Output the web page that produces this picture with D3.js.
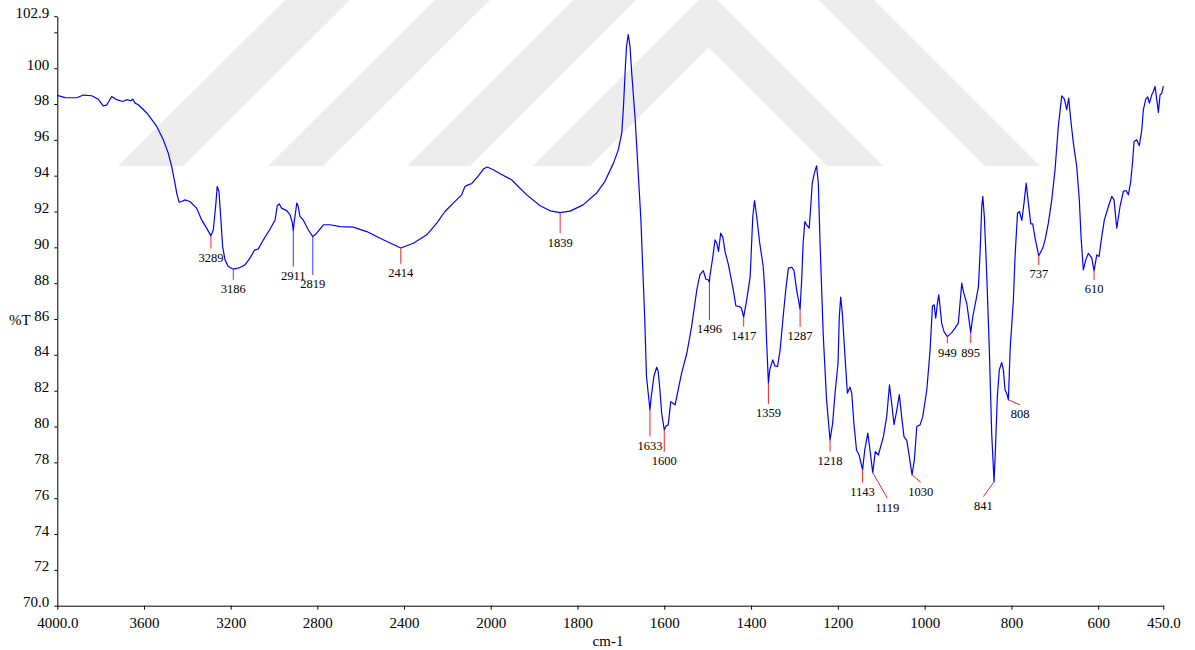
<!DOCTYPE html>
<html><head><meta charset="utf-8">
<script src="https://cdn.jsdelivr.net/npm/d3@7"></script>
<style>
body{margin:0;background:#fff;}
svg{display:block;}
</style>
</head><body>
<svg id="chart" width="1195" height="650"></svg>
<script>
// ---- data ----
const wavenumbers = [4000,3964,3910,3880,3841,3811,3788,3772,3749,3726,3698,3680,3661,3652,3641,3626,3587,3541,3511,3488,3472,3457,3449,3438,3426,3411,3388,3357,3334,3311,3291,3280,3268,3262,3254,3246,3237,3226,3211,3188,3157,3134,3111,3089,3073,3049,3020,2995,2985,2976,2965,2941,2926,2916,2911,2906,2903,2895,2888,2880,2865,2842,2821,2803,2772,2742,2695,2634,2572,2496,2415,2357,2295,2249,2211,2188,2173,2134,2119,2114,2096,2088,2073,2057,2042,2034,2016,1994,1979,1952,1917,1886,1863,1840,1817,1787,1756,1737,1717,1706,1698,1694,1690,1687,1683,1679,1675,1667,1654,1645,1641,1637,1633,1630,1624,1617.5,1614,1610,1606,1600,1596,1591,1585,1580,1575,1568,1560,1548,1537,1525,1518,1510,1504,1498.6,1496,1495,1488,1483,1479,1475,1470,1465,1460,1452,1441,1435,1427,1422,1417,1410,1402,1396,1392,1387,1380,1372,1368,1364,1360,1357,1350,1345,1339,1333,1326,1320,1314,1306,1301,1295,1287,1283,1280,1276,1272,1266,1262.5,1259,1254,1249,1245,1241,1233.5,1226,1218,1212,1206.5,1202.6,1199.6,1196.6,1193.4,1189.7,1183.5,1178,1172,1168,1163,1157,1151,1143,1138,1131,1126,1119.6,1113.6,1106.6,1095,1087.4,1081,1076,1070.5,1064,1058.3,1053,1047.6,1041,1035.3,1029,1023.7,1018,1010.5,1004.4,995,987.4,982,978,974.4,970.5,967.5,964.5,960.7,955.4,947.7,937.6,930,922.3,918.4,914.5,910.7,903,897.7,893.8,889,881.5,876,872,868.4,866,862.4,857,850.9,845.5,840,836.3,832.5,827.9,822.4,818.6,814.7,810.9,807,803,795.5,791.6,786,781.5,776,771,766,760.9,755.4,750.8,745.5,737,727.8,722.5,714.9,707,699.5,691.9,684,678,672.6,668,663.3,657.2,649.5,643.5,639.6,634.2,628.7,622.6,614.8,609.5,603.3,598,591.8,585.8,576.5,568.8,563.5,557.3,549.7,542,535.8,530.5,525,520.4,517.4,511.2,505.2,499.6,495.9,490.4,485.8,482.1,476.6,472.9,469,465,461.3,457.5,453.5,450];
const transmittance = [98.48,98.36,98.35,98.5,98.46,98.27,97.9,97.94,98.42,98.24,98.14,98.24,98.18,98.27,98.05,97.96,97.5,96.75,96.0,95.26,94.51,93.58,93.03,92.52,92.56,92.65,92.56,92.19,91.53,91.07,90.64,90.98,92.47,93.4,93.12,91.72,90.04,89.3,88.93,88.78,88.87,89.02,89.4,89.86,89.9,90.42,90.98,91.53,92.32,92.43,92.19,92.05,91.81,91.4,90.95,91.5,91.72,92.47,92.28,91.72,91.53,90.98,90.6,90.79,91.26,91.26,91.16,91.13,90.88,90.42,89.96,90.23,90.7,91.35,92.0,92.28,92.47,92.93,93.4,93.43,93.53,93.55,93.77,93.99,94.23,94.37,94.48,94.33,94.12,93.77,92.93,92.32,92.04,91.94,92.02,92.37,93.03,93.67,94.7,95.44,96.38,97.86,99.91,101.21,101.87,101.21,99.73,97.12,91.6,86.0,82.79,81.86,80.93,81.67,82.79,83.31,83.07,82.04,80.74,79.81,80.03,80.09,81.39,81.3,81.21,82.04,82.98,84.09,85.58,87.63,88.46,88.7,88.22,88.19,88.05,88.37,89.49,90.42,90.23,89.77,90.79,90.57,89.77,89.02,87.63,86.73,86.7,86.6,86.1,87.07,88.37,91.72,92.61,91.72,90.23,88.93,87.44,84.65,82.42,83.16,83.72,83.38,83.35,84.28,86.14,87.63,88.84,88.89,88.7,87.63,86.55,88.37,90.23,91.44,91.26,91.07,92.28,93.58,94.14,94.55,93.58,90.23,85.02,81.49,79.25,80.18,81.86,82.79,83.53,86.14,87.22,86.33,83.9,81.86,82.2,81.86,80.18,78.69,78.41,77.58,78.69,79.63,78.69,77.43,78.6,78.41,79.44,80.55,82.32,81.3,80.1,80.93,81.78,80.55,79.44,79.21,78.32,77.3,78.13,80.0,80.09,80.55,82.04,84.28,86.73,86.79,86.05,86.88,87.35,86.7,85.77,85.3,85.02,85.24,85.49,85.77,86.88,88.0,87.53,86.88,85.95,85.24,86.14,87.07,87.81,89.86,92.28,92.84,91.72,88.56,84.28,79.63,76.92,79.07,81.67,83.16,83.57,83.16,82.04,81.86,81.49,84.28,87.07,89.49,91.9,92.0,91.5,92.47,93.58,92.47,91.31,91.31,90.51,89.53,89.96,90.42,91.35,92.65,94.33,96.75,98.46,98.27,97.68,98.33,97.12,95.82,94.51,92.65,90.6,88.74,89.3,89.67,89.4,88.69,89.58,89.49,90.6,91.53,92.28,92.84,92.65,91.07,92.28,93.12,93.17,92.93,93.67,94.89,95.91,96.0,95.67,96.56,97.68,98.27,98.39,98.05,98.51,98.7,98.98,98.24,97.53,98.51,98.6,99.0];

const xTickValues = [4000,3600,3200,2800,2400,2000,1800,1600,1400,1200,1000,800,600,450];
const xTickLabels = ["4000.0","3600","3200","2800","2400","2000","1800","1600","1400","1200","1000","800","600","450.0"];
const yTickValues = [70,72,74,76,78,80,82,84,86,88,90,92,94,96,98,100,102,102.9];
const yTickLabels = ["70.0","72","74","76","78","80","82","84","86","88","90","92","94","96","98","100","","102.9"];

// peak annotations: label, wavenumber of peak, %T at peak, wavenumber/%T where marker ends
const peakLabels = ["3289","3186","2911","2819","2414","1839","1633","1600","1496","1417","1359","1287","1218","1143","1119","1030","949","895","841","808","737","610"];
const peakWn     = [3291,3188,2911,2821,2415,1840,1633,1600,1496,1417,1360,1287,1218,1143,1119.6,1029,947.7,893.8,840,807,737,609.5];
const peakT      = [90.64,88.78,90.95,90.6,89.96,91.94,80.93,79.81,88.05,86.1,82.42,86.55,79.25,77.58,77.43,77.3,85.02,85.24,76.92,81.49,89.53,88.69];
const peakEndWn  = [3291,3188,2911,2821,2415,1840,1633,1600,1496,1417,1360,1287,1218,1143,1086,1009,947.7,893.8,864.7,780,737,609.5];
const peakEndT   = [89.93,88.19,88.93,88.46,89.08,90.79,79.44,78.6,85.95,85.58,81.26,85.56,78.6,76.87,76.0,76.89,84.65,84.65,76.09,81.21,89.02,88.18];

// ---- drawing ----
const svg = d3.select("#chart");
const FONT = "'Liberation Serif','Times New Roman',serif";

// background watermark (decorative chevrons)
const watermark = [
  [[118,166],[183,166],[350,0],[285,0]],
  [[268,166],[323,166],[490,0],[435,0]],
  [[407,166],[470,166],[636,0],[573,0]],
  [[533,166],[590,166],[708.5,47.5],[827,166],[883,166],[717,0],[699,0]],
  [[985,166],[1040,166],[874,0],[819,0]]
];
svg.append("g").selectAll("polygon").data(watermark).join("polygon")
  .attr("points", d => d.map(p => p.join(",")).join(" "))
  .attr("fill", "#ededed");

const x = d3.scaleLinear().domain([4000, 2000, 450]).range([57.3, 490.7, 1163.3]);
const y = d3.scaleLinear().domain([70, 102.9]).range([605.7, 16.2]);

const xAxis = d3.axisBottom(x).tickValues(xTickValues)
  .tickFormat((d, i) => xTickLabels[i]).tickSize(4).tickSizeOuter(0).tickPadding(7.3);
const gx = svg.append("g").attr("transform", "translate(0,605.7)").call(xAxis);
gx.selectAll("text").attr("font-family", FONT).attr("font-size", 15).attr("fill", "#000");
gx.selectAll("line,path").attr("stroke", "#000");

const yAxis = d3.axisLeft(y).tickValues(yTickValues)
  .tickFormat((d, i) => yTickLabels[i]).tickSize(3).tickSizeOuter(0).tickPadding(5);
const gy = svg.append("g").attr("transform", "translate(57.3,0)").call(yAxis);
gy.selectAll("text").attr("font-family", FONT).attr("font-size", 15).attr("fill", "#000").attr("dy", 1);
gy.selectAll("line,path").attr("stroke", "#000");

svg.append("text").attr("x", 9).attr("y", 325).attr("font-family", FONT).attr("font-size", 15).text("%T");
svg.append("text").attr("x", 608).attr("y", 646).attr("text-anchor", "middle")
  .attr("font-family", FONT).attr("font-size", 15).text("cm-1");

// spectrum
const pts = wavenumbers.map((w, i) => [w, transmittance[i]]);
svg.append("path").datum(pts)
  .attr("fill", "none").attr("stroke", "#0000ff").attr("stroke-width", 1.2)
  .attr("stroke-linejoin", "round")
  .attr("d", d3.line().x(d => x(d[0])).y(d => y(d[1])));

// peak markers
const blueMarkers = new Set(["2911", "2819", "1496"]);
const peaks = peakLabels.map((l, i) => ({l, w: peakWn[i], t: peakT[i], ew: peakEndWn[i], et: peakEndT[i]}));
const gp = svg.append("g");
gp.selectAll("line").data(peaks).join("line")
  .attr("x1", d => x(d.w)).attr("y1", d => y(d.t))
  .attr("x2", d => x(d.ew)).attr("y2", d => y(d.et))
  .attr("stroke", d => blueMarkers.has(d.l) ? "#3a3aff" : "#ff2020").attr("stroke-width", 1);
gp.selectAll("text").data(peaks).join("text")
  .attr("x", d => x(d.ew)).attr("y", d => y(d.et) + 13.5)
  .attr("text-anchor", "middle").attr("font-family", FONT).attr("font-size", 12.5)
  .attr("fill", "#000").text(d => d.l);
</script>
</body></html>
